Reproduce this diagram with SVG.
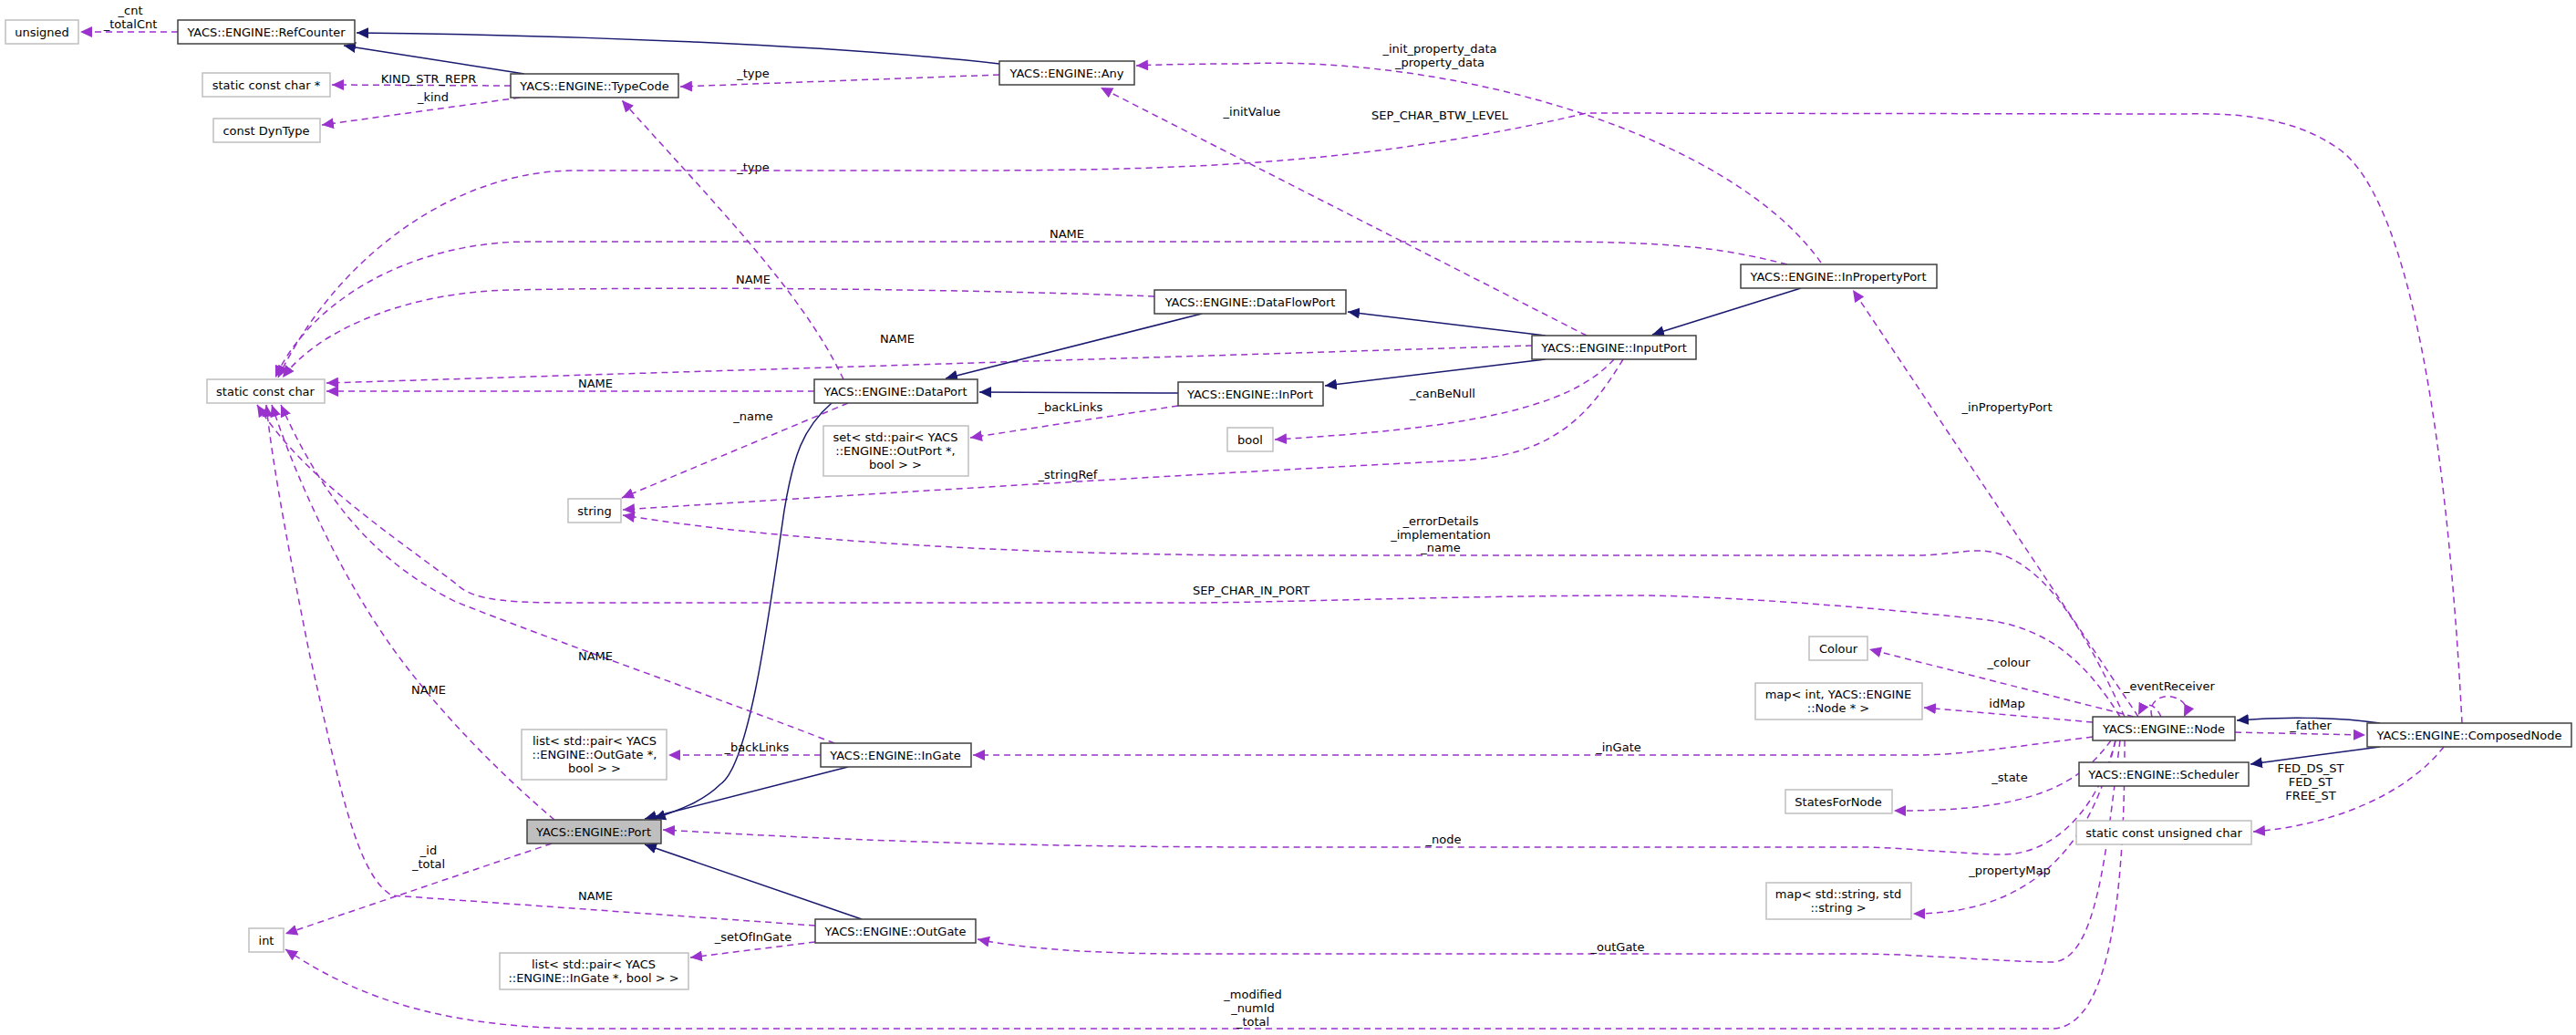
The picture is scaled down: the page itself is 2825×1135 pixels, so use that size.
<svg xmlns="http://www.w3.org/2000/svg" width="2825" height="1135" viewBox="0 0 2825 1135">
<style>
text{font-family:"DejaVu Sans",sans-serif;font-size:13px;fill:#000}
.n text,.e text{text-anchor:middle}
.b{fill:#fff;stroke:#404040;stroke-width:1.5}
.g{fill:#fff;stroke:#bfbfbf;stroke-width:1.5}
.h{fill:#bfbfbf;stroke:#404040;stroke-width:1.5}
.s{fill:none;stroke:#191970;stroke-width:1.5;marker-end:url(#an)}
.d{fill:none;stroke:#9a32cd;stroke-width:1.5;stroke-dasharray:7,5;marker-end:url(#ap)}
</style>
<defs>
<marker id="an" markerUnits="userSpaceOnUse" markerWidth="14" markerHeight="12" refX="13" refY="6" orient="auto"><path d="M0,0L13,6L0,12z" fill="#191970"/></marker>
<marker id="ap" markerUnits="userSpaceOnUse" markerWidth="14" markerHeight="12" refX="13" refY="6" orient="auto"><path d="M0,0L13,6L0,12z" fill="#9a32cd"/></marker>
</defs>
<rect width="2825" height="1135" fill="#fff"/>
<g id="edges" class="e">
<path class="d" d="M195,35L88,35"/><text x="143" y="16">_cnt</text><text x="143" y="31">_totalCnt</text>
<path class="s" d="M575,81L377,50"/>
<path class="s" d="M1096,70C900,48 600,38 391,36"/>
<path class="d" d="M1096,82L746,95"/><text x="826" y="85">_type</text>
<path class="d" d="M560,94L364,93"/><text x="470" y="91">KIND_STR_REPR</text>
<path class="d" d="M570,107L353,137"/><text x="475" y="111">_kind</text>
<path class="d" d="M925,416C880,320 780,220 682,110"/><text x="826" y="188">_type</text>
<path class="d" d="M1740,368L1207,96"/><text x="1373" y="127">_initValue</text>
<path class="d" d="M1997,288C1900,150 1600,60 1360,70C1300,70 1270,71 1246,72"/><text x="1579" y="58">_init_property_data</text><text x="1579" y="73">_property_data</text>
<path class="d" d="M2700,793C2690,600 2660,220 2560,160C2500,120 2420,125 2385,125L1740,124C1500,180 1300,187 1050,187L630,187C500,187 370,280 305,414"/><text x="1579" y="131">SEP_CHAR_BTW_LEVEL</text>
<path class="d" d="M1960,290C1900,275 1850,265 1700,265L580,265C450,265 340,330 302,414"/><text x="1170" y="261">NAME</text>
<path class="d" d="M1266,325C1000,315 700,315 560,318C450,320 350,360 310,414"/><text x="826" y="311">NAME</text>
<path class="d" d="M1680,379L358,420"/><text x="984" y="376">NAME</text>
<path class="d" d="M893,429L358,429"/><text x="653" y="425">NAME</text>
<path class="s" d="M1318,344L1037,415"/>
<path class="s" d="M1695,368L1478,342"/>
<path class="s" d="M1975,316L1812,367"/>
<path class="s" d="M1695,394L1453,423"/>
<path class="s" d="M1292,431L1074,430"/>
<path class="d" d="M1292,445L1064,480"/><text x="1174" y="451">_backLinks</text>
<path class="d" d="M1770,394C1720,450 1600,470 1398,482"/><text x="1582" y="436">_canBeNull</text>
<path class="d" d="M1780,394C1740,460 1700,500 1600,505C1300,520 900,545 683,559"/><text x="1171" y="525">_stringRef</text>
<path class="d" d="M930,442L682,546"/><text x="826" y="461">_name</text>
<path class="s" d="M912,442C880,470 870,500 860,560C840,700 820,840 790,860C770,880 740,890 717,898"/>
<path class="s" d="M930,841L707,898"/>
<path class="s" d="M945,1008L707,926"/>
<path class="d" d="M900,828L733,828"/><text x="830" y="824">_backLinks</text>
<path class="d" d="M894,1033L757,1050"/><text x="826" y="1032">_setOfInGate</text>
<path class="d" d="M915,815C800,770 600,700 500,660C420,620 360,560 308,444"/><text x="653" y="724">NAME</text>
<path class="d" d="M608,899C550,850 480,780 430,710C380,640 330,540 298,444"/><text x="470" y="761">NAME</text>
<path class="d" d="M894,1015L430,982C390,960 370,850 340,720C320,620 300,520 292,444"/><text x="653" y="987">NAME</text>
<path class="d" d="M605,925L313,1024"/><text x="470" y="937">_id</text><text x="470" y="952">_total</text>
<path class="d" d="M2330,812C2330,950 2320,1128 2250,1128L650,1128C500,1128 400,1100 313,1041"/><text x="1374" y="1095">_modified</text><text x="1374" y="1110">_numId</text><text x="1374" y="1125">_total</text>
<path class="d" d="M2325,812C2310,930 2300,1055 2250,1055C2200,1055 2100,1046 2040,1046L1300,1046C1200,1046 1120,1040 1072,1030"/><text x="1774" y="1043">_outGate</text>
<path class="d" d="M2320,812C2300,890 2250,940 2190,937C2130,935 2080,929 2040,929L1400,929C1100,929 900,920 727,910"/><text x="1583" y="925">_node</text>
<path class="d" d="M2295,808C2200,820 2150,828 2100,828L1067,828"/><text x="1775" y="824">_inGate</text>
<path class="d" d="M2330,786C2290,700 2240,604 2170,604C2150,604 2130,609 2100,609L1400,609C1200,609 900,600 683,565"/><text x="1580" y="576">_errorDetails</text><text x="1580" y="591">_implementation</text><text x="1580" y="605">_name</text>
<path class="d" d="M2325,786C2290,730 2250,690 2180,680C2000,660 1850,653 1800,653C1600,653 1400,661 1300,661L640,661C560,661 520,660 500,640C420,580 330,520 282,444"/><text x="1372" y="652">SEP_CHAR_IN_PORT</text>
<path class="d" d="M2345,786L2032,318"/><text x="2201" y="451">_inPropertyPort</text>
<path class="d" d="M2340,786L2050,712"/><text x="2203" y="731">_colour</text>
<path class="d" d="M2295,792L2110,776"/><text x="2201" y="776">idMap</text>
<path class="d" d="M2360,786C2355,770 2370,760 2385,765C2400,770 2398,780 2395,786"/>
<path class="d" d="M2370,786C2365,775 2355,765 2345,784"/><text x="2379" y="757">_eventReceiver</text>
<path class="d" d="M2315,812C2280,860 2230,890 2077,889"/><text x="2204" y="857">_state</text>
<path class="d" d="M2320,812C2300,900 2250,1002 2098,1002"/><text x="2204" y="959">_propertyMap</text>
<path class="s" d="M2610,793C2560,786 2500,786 2453,790"/>
<path class="d" d="M2451,803L2594,806"/><text x="2534" y="800">_father</text>
<path class="s" d="M2610,819L2468,838"/>
<path class="d" d="M2680,819C2640,870 2560,905 2471,912"/><text x="2534" y="847">FED_DS_ST</text><text x="2534" y="862">FED_ST</text><text x="2534" y="877">FREE_ST</text>
</g>
<g id="unsigned" class="n"><rect class="g" x="6" y="22" width="80" height="26"/><text x="46" y="40">unsigned</text></g>
<g id="RefCounter" class="n"><rect class="b" x="195" y="22" width="194" height="26"/><text x="292" y="40">YACS::ENGINE::RefCounter</text></g>
<g id="scc_star" class="n"><rect class="g" x="222" y="80" width="140" height="26"/><text x="292" y="98">static const char *</text></g>
<g id="TypeCode" class="n"><rect class="b" x="560" y="81" width="184" height="26"/><text x="652" y="99">YACS::ENGINE::TypeCode</text></g>
<g id="DynType" class="n"><rect class="g" x="234" y="130" width="117" height="26"/><text x="292" y="148">const DynType</text></g>
<g id="Any" class="n"><rect class="b" x="1096" y="67" width="148" height="26"/><text x="1170" y="85">YACS::ENGINE::Any</text></g>
<g id="scc" class="n"><rect class="g" x="227" y="416" width="129" height="26"/><text x="291" y="434">static const char</text></g>
<g id="DataPort" class="n"><rect class="b" x="893" y="416" width="179" height="26"/><text x="982" y="434">YACS::ENGINE::DataPort</text></g>
<g id="DataFlowPort" class="n"><rect class="b" x="1266" y="318" width="210" height="26"/><text x="1371" y="336">YACS::ENGINE::DataFlowPort</text></g>
<g id="InputPort" class="n"><rect class="b" x="1680" y="368" width="180" height="26"/><text x="1770" y="386">YACS::ENGINE::InputPort</text></g>
<g id="InPropertyPort" class="n"><rect class="b" x="1909" y="290" width="215" height="26"/><text x="2016" y="308">YACS::ENGINE::InPropertyPort</text></g>
<g id="InPort" class="n"><rect class="b" x="1292" y="419" width="159" height="26"/><text x="1371" y="437">YACS::ENGINE::InPort</text></g>
<g id="setOutPort" class="n"><rect class="g" x="903" y="467" width="159" height="55"/><text x="982" y="484">set&lt; std::pair&lt; YACS</text><text x="982" y="499">::ENGINE::OutPort *,</text><text x="982" y="514">bool &gt; &gt;</text></g>
<g id="bool" class="n"><rect class="g" x="1346" y="469" width="50" height="26"/><text x="1371" y="487">bool</text></g>
<g id="string" class="n"><rect class="g" x="623" y="547" width="58" height="26"/><text x="652" y="565">string</text></g>
<g id="Colour" class="n"><rect class="g" x="1984" y="698" width="64" height="26"/><text x="2016" y="716">Colour</text></g>
<g id="idMap" class="n"><rect class="g" x="1925" y="749" width="183" height="40"/><text x="2016" y="766">map&lt; int, YACS::ENGINE</text><text x="2016" y="781">::Node * &gt;</text></g>
<g id="Node" class="n"><rect class="b" x="2295" y="786" width="156" height="26"/><text x="2373" y="804">YACS::ENGINE::Node</text></g>
<g id="ComposedNode" class="n"><rect class="b" x="2596" y="793" width="224" height="26"/><text x="2708" y="811">YACS::ENGINE::ComposedNode</text></g>
<g id="Scheduler" class="n"><rect class="b" x="2280" y="836" width="186" height="26"/><text x="2373" y="854">YACS::ENGINE::Scheduler</text></g>
<g id="StatesForNode" class="n"><rect class="g" x="1958" y="866" width="117" height="26"/><text x="2016" y="884">StatesForNode</text></g>
<g id="scuc" class="n"><rect class="g" x="2277" y="900" width="192" height="26"/><text x="2373" y="918">static const unsigned char</text></g>
<g id="mapStr" class="n"><rect class="g" x="1937" y="968" width="159" height="40"/><text x="2016" y="985">map&lt; std::string, std</text><text x="2016" y="1000">::string &gt;</text></g>
<g id="listOutGate" class="n"><rect class="g" x="572" y="800" width="159" height="55"/><text x="652" y="817">list&lt; std::pair&lt; YACS</text><text x="652" y="832">::ENGINE::OutGate *,</text><text x="652" y="847">bool &gt; &gt;</text></g>
<g id="InGate" class="n"><rect class="b" x="900" y="815" width="165" height="26"/><text x="982" y="833">YACS::ENGINE::InGate</text></g>
<g id="Port" class="n"><rect class="h" x="578" y="899" width="147" height="26"/><text x="651" y="917">YACS::ENGINE::Port</text></g>
<g id="int" class="n"><rect class="g" x="273" y="1018" width="38" height="26"/><text x="292" y="1036">int</text></g>
<g id="OutGate" class="n"><rect class="b" x="894" y="1008" width="176" height="26"/><text x="982" y="1026">YACS::ENGINE::OutGate</text></g>
<g id="listInGate" class="n"><rect class="g" x="548" y="1045" width="207" height="40"/><text x="651" y="1062">list&lt; std::pair&lt; YACS</text><text x="651" y="1077">::ENGINE::InGate *, bool &gt; &gt;</text></g>
</svg>
